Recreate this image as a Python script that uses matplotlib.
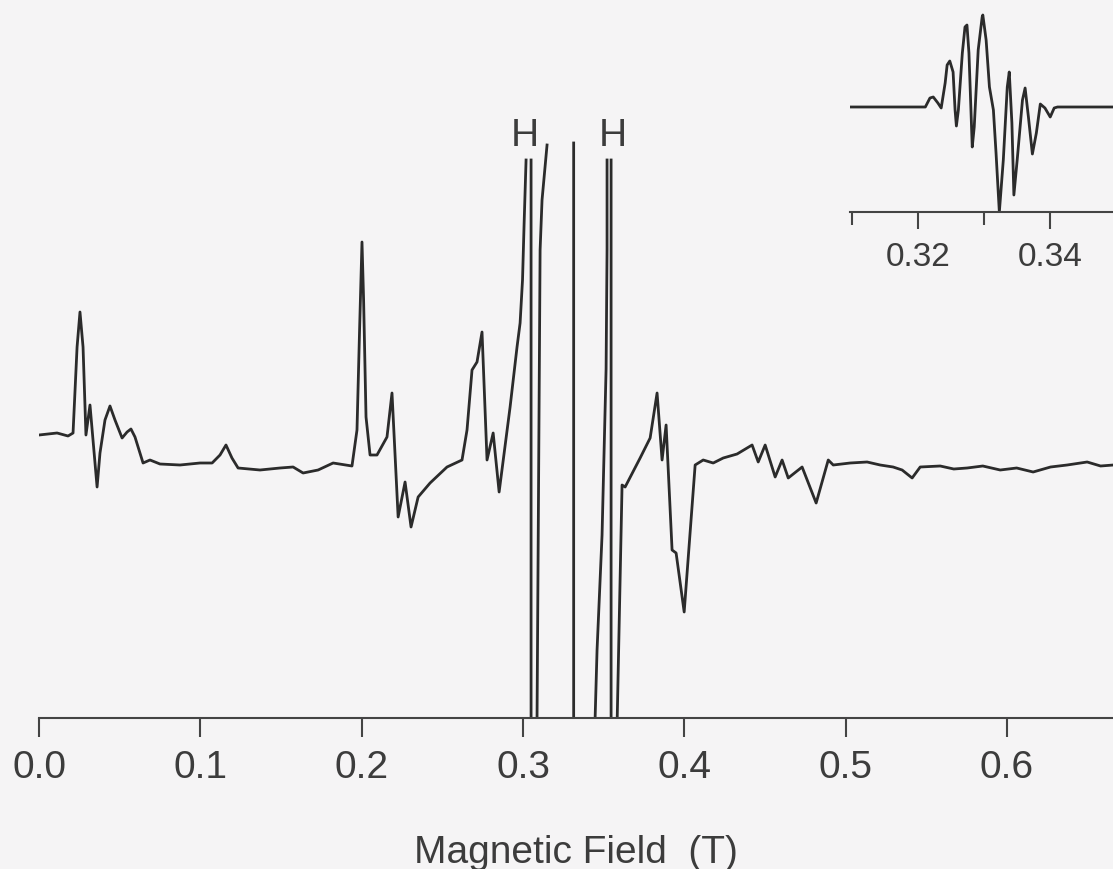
"""
EPR spectrum with inset of the central hyperfine pattern.
"""

import matplotlib.pyplot as plt
import numpy as np

nan = np.nan

# main spectrum: field (T) and signal (a.u.); NaN breaks the off-scale parts
main_field = [
    0.0000, 0.0112, 0.0180, 0.0211, 0.0236, 0.0254, 0.0273, 0.0291, 0.0316,
    0.0360, 0.0378, 0.0409, 0.0440, 0.0471, 0.0515, 0.0546, 0.0570, 0.0595,
    0.0645, 0.0688, 0.0750, 0.0874,
    0.0998, 0.1073, 0.1122, 0.1159, 0.1196, 0.1234, 0.1370, 0.1494, 0.1575,
    0.1637, 0.1730, 0.1823, 0.1940, 0.1971, 0.1987, 0.2002, 0.2012, 0.2027,
    0.2052, 0.2095,
    0.2157, 0.2188, 0.2226, 0.2269, 0.2306, 0.2350, 0.2424, 0.2529, 0.2622,
    0.2653, 0.2684, 0.2715, 0.2746, 0.2777, 0.2815, 0.2852, 0.2920, 0.2963,
    0.2982, 0.2997, 0.3007, 0.3019,
    nan,
    0.3050, 0.3050,
    nan,
    0.3087, 0.3100, 0.3106, 0.3118, 0.3149,
    nan,
    0.3314, 0.3314,
    nan,
    0.3447, 0.3459, 0.3490, 0.3515, 0.3521, 0.3521,
    nan,
    0.3546, 0.3546,
    nan,
    0.3584, 0.3614, 0.3633, 0.3726, 0.3788, 0.3831, 0.3862, 0.3887, 0.3924,
    0.3949, 0.3999, 0.4067, 0.4117, 0.4179, 0.4241, 0.4327, 0.4420, 0.4458,
    0.4501, 0.4563, 0.4606, 0.4644, 0.4730, 0.4817, 0.4892, 0.4923, 0.5028,
    0.5133, 0.5214, 0.5294, 0.5350, 0.5412, 0.5462, 0.5586, 0.5670, 0.5753,
    0.5850, 0.5958, 0.6060, 0.6162, 0.6270, 0.6373, 0.6497, 0.6580, 0.6660,
]
main_signal = [
    0.28, 0.30, 0.27, 0.30, 1.16, 1.51, 1.16, 0.28, 0.58,
    -0.24, 0.10, 0.43, 0.57, 0.43, 0.25, 0.31, 0.34, 0.26,
    0.00, 0.03, -0.01, -0.02,
    0.00, 0.00, 0.08, 0.18, 0.05, -0.05, -0.07, -0.05, -0.04,
    -0.10, -0.07, 0.00, -0.03, 0.33, 1.33, 2.21, 1.63, 0.46,
    0.08, 0.08,
    0.26, 0.70, -0.54, -0.19, -0.64, -0.34, -0.20, -0.04, 0.03,
    0.33, 0.93, 1.01, 1.31, 0.03, 0.30, -0.29, 0.56, 1.16,
    1.40, 1.83, 2.40, 3.03,
    nan,
    3.03, -2.55,
    nan,
    -2.55, 0.63, 2.13, 2.63, 3.18,
    nan,
    3.20, -2.55,
    nan,
    -2.55, -1.87, -0.72, 0.94, 2.13, 3.03,
    nan,
    3.03, -2.55,
    nan,
    -2.55, -0.22, -0.24, 0.05, 0.25, 0.70, 0.03, 0.38, -0.87,
    -0.90, -1.49, -0.02, 0.03, 0.00, 0.05, 0.09, 0.18, 0.01,
    0.18, -0.14, 0.03, -0.15, -0.04, -0.40, 0.03, -0.02, 0.00,
    0.01, -0.02, -0.04, -0.07, -0.15, -0.04, -0.03, -0.06, -0.05,
    -0.03, -0.07, -0.05, -0.09, -0.04, -0.02, 0.01, -0.03, -0.02,
]

# inset: central region
inset_field = [
    0.3097, 0.3211, 0.3218, 0.3223, 0.3230, 0.3235, 0.3241, 0.3244, 0.3248,
    0.3253, 0.3256, 0.3258, 0.3261, 0.3267, 0.3271, 0.3274, 0.3277, 0.3282,
    0.3285, 0.3291, 0.3297, 0.3298, 0.3303, 0.3308, 0.3314, 0.3318, 0.3323,
    0.3329, 0.3335, 0.3338, 0.3342, 0.3345, 0.3350, 0.3358, 0.3362, 0.3367,
    0.3373, 0.3379, 0.3385, 0.3392, 0.3400, 0.3406, 0.3411, 0.3450, 0.3500,
]
inset_signal = [
    0.00, 0.00, 0.09, 0.10, 0.04, -0.01, 0.24, 0.42, 0.46,
    0.35, -0.03, -0.19, -0.03, 0.54, 0.80, 0.82, 0.54, -0.40,
    -0.20, 0.57, 0.90, 0.92, 0.67, 0.20, -0.03, -0.46, -1.05,
    -0.53, 0.20, 0.35, -0.16, -0.88, -0.53, 0.07, 0.19, -0.10,
    -0.47, -0.26, 0.03, -0.01, -0.10, -0.01, 0.00, 0.00, 0.00,
]

main_ticks = [0.0, 0.1, 0.2, 0.3, 0.4, 0.5, 0.6]
inset_major = [0.32, 0.34]
inset_minor = [0.31, 0.33]
h_field = [0.3013, 0.3559]
h_signal = [3.27, 3.27]

bg = "#f5f4f5"
ink = "#2b2b2b"
text_col = "#3c3c3c"

plt.rcParams["font.family"] = ["Liberation Sans", "DejaVu Sans"]

W, H = 1113, 869
fig = plt.figure(figsize=(W / 100, H / 100), dpi=100, facecolor=bg)

# main axes: x spine at pixel row 718, starts at column 39
ax = fig.add_axes([39 / W, (H - 718) / H, 1 - 39 / W, 718 / H])
ax.set_facecolor("none")
ax.plot(main_field, main_signal, color=ink, lw=2.0, solid_joinstyle="round")
ax.set_xlim(0, 0.6657)
ax.set_ylim(-2.55, 4.63)
for s in ("top", "right", "left"):
    ax.spines[s].set_visible(False)
ax.spines["bottom"].set_color("#444444")
ax.spines["bottom"].set_linewidth(1.5)
ax.set_yticks([])
ax.set_xticks(main_ticks)
ax.set_xticklabels([f"{t:.1f}" for t in main_ticks])
ax.tick_params(axis="x", direction="out", length=14, width=1.5, color="#444444",
               pad=9, labelsize=28, labelcolor=text_col)

for f, s in zip(h_field, h_signal):
    ax.text(f, s, "H", fontsize=28, color=text_col, ha="center", va="center")

fig.text(576 / W, (H - 863) / H, "Magnetic Field  (T)", fontsize=28,
         color=text_col, ha="center", va="baseline")

# inset axes: spine at pixel row 212, starts at column 850
ins = fig.add_axes([850 / W, (H - 212) / H, 1 - 850 / W, 212 / H])
ins.set_facecolor("none")
ins.plot(inset_field, inset_signal, color=ink, lw=2.0, solid_joinstyle="round")
ins.set_xlim(0.3097, 0.3495)
ins.set_ylim(-1.05, 1.07)
for s in ("top", "right", "left"):
    ins.spines[s].set_visible(False)
ins.spines["bottom"].set_color("#444444")
ins.spines["bottom"].set_linewidth(1.5)
ins.set_yticks([])
ins.set_xticks(inset_major)
ins.set_xticklabels([f"{t:.2f}" for t in inset_major])
ins.set_xticks(inset_minor, minor=True)
ins.tick_params(axis="x", which="major", direction="out", length=12.5, width=1.5,
                color="#444444", pad=9, labelsize=24, labelcolor=text_col)
ins.tick_params(axis="x", which="minor", direction="out", length=9, width=1.5,
                color="#444444")

fig.savefig("out.png", dpi=100, facecolor=bg)
